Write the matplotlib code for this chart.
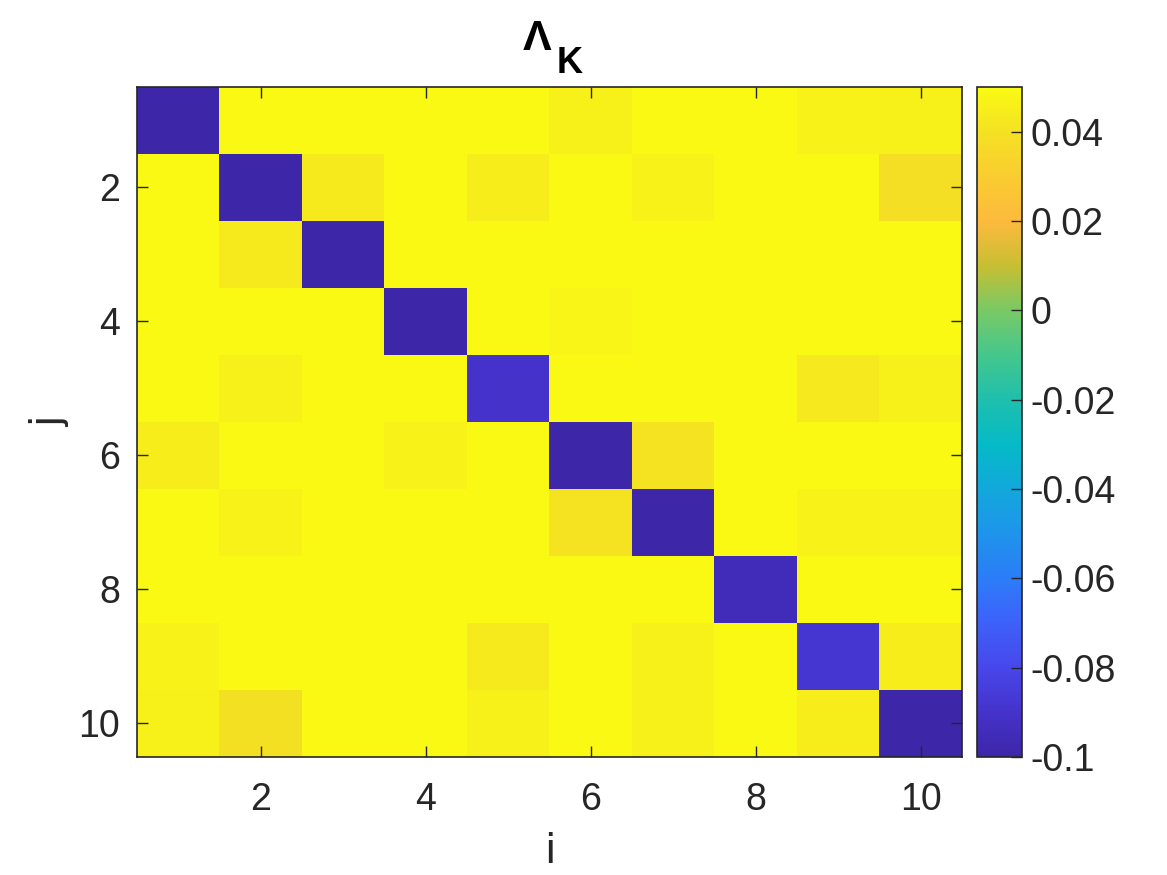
import numpy as np
import matplotlib.pyplot as plt
from matplotlib.colors import LinearSegmentedColormap

plt.rcParams['font.family'] = ['Liberation Sans', 'DejaVu Sans']

# Lambda_K matrix, rows = j (top to bottom), cols = i
row1 = [-0.110, 0.060, 0.060, 0.060, 0.060, 0.046, 0.060, 0.060, 0.047, 0.046]
row2 = [0.060, -0.105, 0.044, 0.060, 0.045, 0.060, 0.047, 0.060, 0.060, 0.039]
row3 = [0.060, 0.044, -0.105, 0.060, 0.060, 0.060, 0.060, 0.060, 0.060, 0.060]
row4 = [0.060, 0.060, 0.060, -0.105, 0.060, 0.048, 0.060, 0.060, 0.060, 0.060]
row5 = [0.060, 0.046, 0.060, 0.060, -0.090, 0.060, 0.060, 0.060, 0.043, 0.046]
row6 = [0.045, 0.060, 0.060, 0.047, 0.060, -0.102, 0.041, 0.060, 0.060, 0.060]
row7 = [0.060, 0.047, 0.060, 0.060, 0.060, 0.041, -0.103, 0.060, 0.047, 0.047]
row8 = [0.060, 0.060, 0.060, 0.060, 0.060, 0.060, 0.060, -0.095, 0.060, 0.060]
row9 = [0.047, 0.060, 0.060, 0.060, 0.044, 0.060, 0.046, 0.060, -0.088, 0.045]
row10 = [0.046, 0.040, 0.060, 0.060, 0.046, 0.060, 0.046, 0.060, 0.045, -0.105]
lam = np.array([row1, row2, row3, row4, row5, row6, row7, row8, row9, row10])

ticks = [2, 4, 6, 8, 10]
cbar_ticks = [-0.1, -0.08, -0.06, -0.04, -0.02, 0, 0.02, 0.04]
cbar_labels = ['-0.1', '-0.08', '-0.06', '-0.04', '-0.02', '0', '0.02', '0.04']

# parula-like colormap
parula = LinearSegmentedColormap.from_list('parula', [
    (0.000, (0.24, 0.15, 0.66)),
    (0.067, (0.27, 0.20, 0.80)),
    (0.133, (0.28, 0.28, 0.92)),
    (0.200, (0.24, 0.38, 0.98)),
    (0.267, (0.17, 0.49, 0.97)),
    (0.333, (0.12, 0.58, 0.92)),
    (0.400, (0.07, 0.66, 0.86)),
    (0.467, (0.02, 0.73, 0.78)),
    (0.533, (0.12, 0.75, 0.68)),
    (0.600, (0.27, 0.78, 0.55)),
    (0.667, (0.47, 0.79, 0.40)),
    (0.733, (0.78, 0.75, 0.20)),
    (0.800, (0.99, 0.73, 0.24)),
    (0.867, (0.98, 0.80, 0.19)),
    (0.933, (0.96, 0.88, 0.14)),
    (1.000, (0.98, 0.98, 0.08)),
])

dark = '#262626'
fig = plt.figure(figsize=(11.67, 8.75), dpi=100)
ax = fig.add_axes([0.1174, 0.1349, 0.7069, 0.7657])
im = ax.imshow(lam, cmap=parula, vmin=-0.1, vmax=0.05, aspect='auto',
               extent=(0.5, 10.5, 10.5, 0.5), interpolation='nearest')
ax.set_xticks(ticks)
ax.set_yticks(ticks)
ax.tick_params(direction='in', length=8, width=1, labelsize=27, color=dark,
               top=True, right=True, labelcolor=dark)
ax.tick_params(axis='x', pad=18)
ax.tick_params(axis='y', pad=12)
for s in ax.spines.values():
    s.set_color(dark)
    s.set_linewidth(1.2)
ax.set_xlabel('i', fontsize=31, color=dark, labelpad=10)
ax.set_ylabel('j', fontsize=31, color=dark, labelpad=6)

# title: Lambda with subscript K
fig.text(523 / 1167, 1 - 50 / 875, '\u039b', fontsize=31, fontweight='bold',
         ha='left', va='baseline')
fig.text(557 / 1167, 1 - 73 / 875, 'K', fontsize=26, fontweight='bold',
         ha='left', va='baseline')

cax = fig.add_axes([0.8372, 0.1349, 0.0386, 0.7657])
cb = fig.colorbar(im, cax=cax)
cb.set_ticks(cbar_ticks)
cb.set_ticklabels(cbar_labels)
cax.tick_params(direction='in', length=8, width=1, labelsize=27, color=dark,
                labelcolor=dark, pad=6)
cb.outline.set_edgecolor(dark)
cb.outline.set_linewidth(1.2)

fig.savefig('out.png', dpi=100)
